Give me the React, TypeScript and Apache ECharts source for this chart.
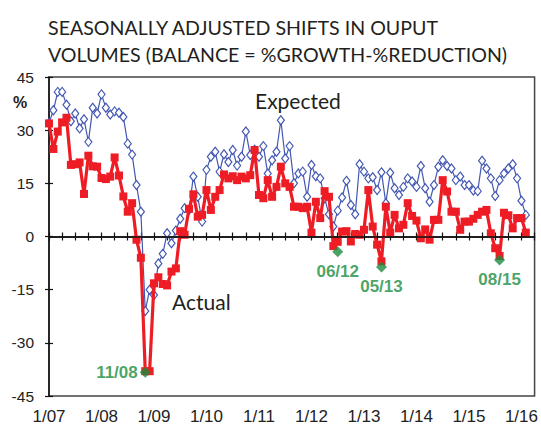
import React, { useEffect, useRef } from "react";
import * as echarts from "echarts";

// months since Jan 2007 (index 0 = 1/07)
const tickLabels = ["1/07", "1/08", "1/09", "1/10", "1/11", "1/12", "1/13", "1/14", "1/15", "1/16"];
const yTicks = [-45, -30, -15, 0, 15, 30, 45];

const expected = [
  32, 35.6, 40.8, 40.8, 37.2, 32.5, 34.7, 30.5, 33.1, 26.7, 36.3, 34.7,
  40.1, 36.3, 34.4, 35.3, 34.9, 33.7, 26.2, 23.1, 14.5, 7, -21, -15,
  -16.5, -7.6, -4.9, 0.9, -1.9, 1.7, 5, 8, 7.5, 16.9, 11.2, 4.2,
  18.8, 22.5, 23.9, 18.3, 23.2, 21, 24.4, 20, 22.5, 29.6, 23, 24.5,
  22.5, 25.5, 17.8, 21.5, 23.9, 32.8, 22, 25.5, 15, 17.8, 18.3, 11.2,
  20.2, 17, 16.4, 10.8, 6.3, 2.8, 7.3, 11, 15.7, 8.9, 6.3, 20.4,
  18.3, 16.4, 16.7, 13.1, 18.1, 9.4, 18, 13.6, 11.7, 14, 16.4, 15.5,
  14, 19.9, 13.6, 9.8, 14.5, 19.7, 21.5, 19.9, 19.2, 15.9, 16.9, 14.5,
  14.5, 13, 12.8, 21.4, 19.2, 16.4, 11.4, 15.9, 17.8, 19.2, 20.4, 16.4,
  10.1, 6.1,
];

const actual = [
  31.9, 24.7, 29.6, 32.2, 33.5, 20.2, 20.4, 20.9, 12.0, 22.8, 19.8, 19.7,
  16.5, 16.2, 16.9, 22.3, 17.2, 11.3, 7.0, 9.4, -0.9, -6, -38, -38,
  -13.2, -11.5, -13.4, -13.8, -9.9, -9, 1.5, 0.5, 7.8, 11.9, 5.6, 6.1,
  13.1, 7.5, 11.2, 13.1, 17.5, 16.4, 17, 15.9, 16.9, 16.4, 17.3, 24.4,
  11.7, 10.8, 15.9, 11.2, 14, 19.7, 15, 14, 8.4, 8.4, 8, 8.4,
  1.1, 9.8, 5.2, 12.8, 11.2, -2.7, -1.5, 1.4, 1.5, -1.4, 0.7, 0.5,
  1.9, 13.1, 2.8, -2.3, -7, 8.4, 1.1, 6.1, 2.3, 3.3, 9.4, 5.8,
  4.5, -0.5, 2, -0.9, 4.7, 4.7, 15.9, 12.7, 7, 7, 1.9, 4.2,
  4.2, 5, 6.1, 7, 7.5, 0.9, -3.3, -5.5, 6.7, 6, 2.3, 5.2,
  5.2, 1.1,
];

const lowLabels = ["11/08", "06/12", "05/13", "08/15"];
const lowMonths = [22, 66, 76, 103];
const lowValues = [-38.3, -4.3, -8.6, -6.6];

const BLUE = "#4257b2";
const RED = "#ee1c24";
const GREEN = "#1b8c3e";

export default function App() {
  const ref = useRef<HTMLDivElement>(null);
  useEffect(() => {
    document.body.style.margin = "0";
    const chart = echarts.init(ref.current!, null, { renderer: "svg" });
    const tickStyle = { color: "#111", width: 1.2 };
    const option: any = {
      animation: false,
      backgroundColor: "#fff",
      title: {
        text: "SEASONALLY ADJUSTED SHIFTS IN OUPUT\nVOLUMES (BALANCE = %GROWTH-%REDUCTION)",
        left: 43,
        top: 9,
        textStyle: {
          fontFamily: "Lato",
          fontSize: 19.6,
          fontWeight: "normal",
          color: "#231f20",
          lineHeight: 27,
        },
      },
      grid: {
        left: 49,
        right: 6,
        top: 77,
        bottom: 29,
        show: true,
        borderColor: "#444",
        borderWidth: 1.5,
        backgroundColor: "transparent",
      },
      xAxis: [
        {
          type: "value",
          min: 0,
          max: 111,
          interval: 12,
          axisLine: { show: true, lineStyle: { color: "#111", width: 1.5 } },
          axisTick: { show: true, length: 4, lineStyle: tickStyle },
          minorTick: { show: true, splitNumber: 4, length: 4, lineStyle: tickStyle },
          splitLine: { show: false },
          axisLabel: {
            fontFamily: "Liberation Sans",
            fontSize: 17,
            color: "#222",
            margin: 12,
            formatter: (v: number) => (v % 12 === 0 ? tickLabels[v / 12] ?? "" : ""),
          },
        },
        {
          type: "value",
          min: 0,
          max: 111,
          interval: 12,
          position: "bottom",
          axisLine: { show: false },
          axisTick: { show: true, inside: true, length: 4, lineStyle: tickStyle },
          minorTick: { show: true, splitNumber: 4, length: 4, lineStyle: tickStyle },
          splitLine: { show: false },
          axisLabel: { show: false },
        },
      ],
      yAxis: [
        {
          type: "value",
          min: yTicks[0],
          max: yTicks[yTicks.length - 1],
          interval: 15,
          axisLine: { show: true, lineStyle: { color: "#111", width: 1.5 } },
          axisTick: { show: true, length: 4, lineStyle: tickStyle },
          splitLine: { show: false },
          axisLabel: { fontFamily: "Liberation Sans", fontSize: 15.5, color: "#222", margin: 15 },
        },
        {
          type: "value",
          min: yTicks[0],
          max: yTicks[yTicks.length - 1],
          interval: 15,
          position: "left",
          axisLine: { show: false },
          axisTick: { show: true, inside: true, length: 4, lineStyle: tickStyle },
          splitLine: { show: false },
          axisLabel: { show: false },
        },
      ],
      graphic: [
        {
          type: "text",
          left: 13,
          top: 94,
          style: { text: "%", fontFamily: "Liberation Sans", fontWeight: "bold", fontSize: 16, fill: "#222" },
        },
        {
          type: "text",
          left: 255,
          top: 90,
          style: { text: "Expected", fontFamily: "Lato", fontSize: 21, fill: "#231f20" },
        },
        {
          type: "text",
          left: 172,
          top: 291,
          style: { text: "Actual", fontFamily: "Lato", fontSize: 21, fill: "#231f20" },
        },
      ],
      series: [
        {
          name: "Expected",
          type: "line",
          data: expected.map((v, i) => [i, v]),
          symbol: "diamond",
          symbolSize: [7, 9],
          showAllSymbol: true,
          lineStyle: { color: BLUE, width: 1.2 },
          itemStyle: { color: "#fff", borderColor: BLUE, borderWidth: 1.2 },
          z: 2,
        },
        {
          name: "Actual",
          type: "line",
          data: actual.map((v, i) => [i, v]),
          symbol: "rect",
          symbolSize: 8,
          showAllSymbol: true,
          lineStyle: { color: RED, width: 3.2 },
          itemStyle: { color: RED },
          z: 3,
          markLine: {
            silent: true,
            symbol: "none",
            label: { show: false },
            lineStyle: { color: "#111", width: 1.5, type: "solid" },
            data: [{ yAxis: 0 }],
          },
        },
        {
          name: "Lows",
          type: "scatter",
          data: lowMonths.map((m, i) => ({
            value: [m, lowValues[i]],
            name: lowLabels[i],
            label: {
              show: true,
              position: i === 0 ? "left" : "bottom",
              distance: i === 0 ? 2 : 6,
              formatter: lowLabels[i],
              fontFamily: "Liberation Sans",
              fontWeight: "bold",
              fontSize: 17,
              color: GREEN,
            },
          })),
          symbol: "diamond",
          symbolSize: [11, 11],
          itemStyle: { color: GREEN },
          z: 5,
        },
      ],
    };
    chart.setOption(option);
    return () => chart.dispose();
  }, []);
  return <div ref={ref} style={{ width: 541, height: 425 }} />;
}
